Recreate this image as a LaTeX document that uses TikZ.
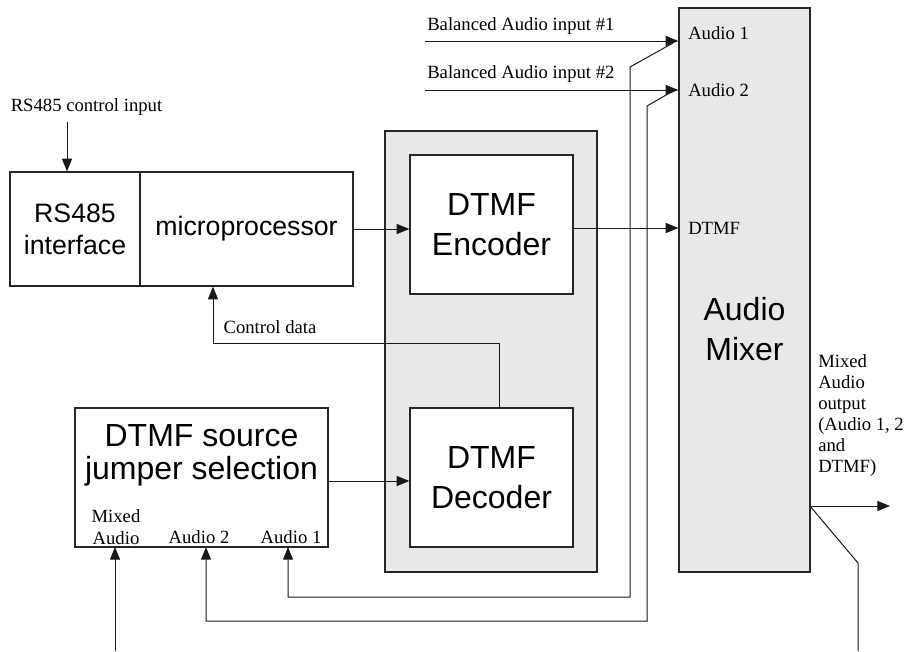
\documentclass[tikz,border=0pt]{standalone}
\usepackage{fontspec}
\setmainfont{Liberation Serif}
\newfontfamily\blockfont{Liberation Sans}
\usetikzlibrary{arrows.meta,calc}
\definecolor{panelgray}{HTML}{E8E8E8}
\tikzset{
	blk/.style={draw=black!85, line width=0.9pt, inner sep=0pt, fill=white},
	bigtxt/.style={font=\blockfont\fontsize{24}{30}\selectfont, align=center},
	midtxt/.style={font=\blockfont\fontsize{20}{24}\selectfont, align=center},
	smalltxt/.style={font=\fontsize{14}{16}\selectfont, inner sep=0pt},
	wire/.style={line width=0.75pt, draw=black!90},
	arr/.style={wire, -{Triangle[length=9.5pt,width=7.5pt]}}
}

\begin{document}
\begin{tikzpicture}[x=0.75pt, y=-0.75pt]
			%%%%% START %%%%%
			\useasboundingbox (0, 0) rectangle (908, 651);
			
			% blocks
			\node[blk, fill=panelgray, minimum width=159pt, minimum height=330.75pt] (dtmfblk) at (491, 351.5) {};
			\node[blk, minimum width=122.25pt, minimum height=104.25pt, bigtxt] (enc) at (491.5, 224.5) {DTMF\\Encoder};
			\node[blk, minimum width=122.25pt, minimum height=104.25pt, bigtxt] (dec) at (491.5, 477.5) {DTMF\\Decoder};
			\node[blk, fill=panelgray, minimum width=98.25pt, minimum height=423pt] (mix) at (744.5, 290) {};
			\node[bigtxt] (mixlbl) at (744.5, 329) {Audio\\Mixer};
			
			\node[blk, minimum width=97.5pt, minimum height=85.5pt, midtxt] (rs) at (75, 229) {RS485\\interface};
			\node[blk, minimum width=159.75pt, minimum height=85.5pt, midtxt] (mp) at (246.5, 229) {microprocessor};
			
			\node[blk, minimum width=189.75pt, minimum height=104.25pt] (jmp) at (201.5, 477.5) {};
			\node[bigtxt, font=\blockfont\fontsize{24}{25}\selectfont] (jmptitle) at (201.5, 455) {DTMF source\\jumper selection};
			\node[smalltxt, align=center] (jmixlbl) at (116, 527) {Mixed\\Audio};
			\node[smalltxt] (ja2lbl) at (199, 537) {Audio 2};
			\node[smalltxt] (ja1lbl) at (291, 537) {Audio 1};
			
			% labels
			\node[smalltxt] (rsinlbl) at (86.5, 107) {RS485 control input};
			\node[smalltxt, anchor=west] (in1lbl) at (427, 26) {Balanced Audio input \#1};
			\node[smalltxt, anchor=west] (in2lbl) at (427, 74) {Balanced Audio input \#2};
			\node[smalltxt, anchor=west] (ma1lbl) at (688, 33) {Audio 1};
			\node[smalltxt, anchor=west] (ma2lbl) at (688, 90) {Audio 2};
			\node[smalltxt, anchor=west] (mdtmflbl) at (688, 228) {DTMF};
			\node[smalltxt] (ctllbl) at (270, 327) {Control data};
			\node[smalltxt, anchor=west, align=left, font=\fontsize{14}{15.75}\selectfont] (outlbl) at (818, 416) {Mixed\\Audio\\output\\(Audio 1, 2\\and\\DTMF)};
			
			% points
			\coordinate (rsin) at (67, 122);
			\coordinate (in1) at (425, 41);
			\coordinate (in2) at (425, 90);
			\coordinate (tap1) at (673, 43);
			\coordinate (tap2) at (673, 91);
			\coordinate (jin0) at (115, 547);
			\coordinate (jin2) at (206, 547);
			\coordinate (jin1) at (288, 547);
			\coordinate (fbin) at (115, 651);
			\coordinate (jsel) at (328, 481);
			\coordinate (ctlsrc) at (499, 408);
			\coordinate (ctlbend) at (213, 343);
			\coordinate (mixout) at (810, 506);
			\coordinate (outend) at (890, 506);
			
			% connectors
			\draw[arr] (rsin) -- (rsin |- rs.north);
			\draw[arr] (mp.east) -- (mp.east -| enc.west);
			\draw[arr] (enc.east |- mdtmflbl.west) -- (mix.west |- mdtmflbl.west);
			\draw[arr] (in1) -- (in1 -| mix.west);
			\draw[arr] (in2) -- (in2 -| mix.west);
			\draw[arr] (ctlsrc) |- (ctlbend) -- (ctlbend |- mp.south);
			\draw[arr] (jsel) -- (jsel -| dec.west);
			
			\draw[arr] (tap1) -- (630, 67) -- (630, 597) -| (jin1);
			\draw[arr] (tap2) -- (647, 106) -- (647, 621) -| (jin2);
			\draw[arr] (fbin) -- (jin0);
			
			\draw[arr] (mixout) -- (outend);
			\draw[wire] (mixout) -- (858, 563) -- (858, 651);
			%%%%% END %%%%%
		\end{tikzpicture}
\end{document}
